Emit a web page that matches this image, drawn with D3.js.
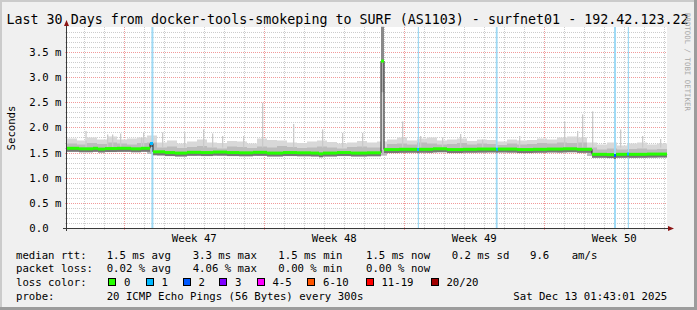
<!DOCTYPE html>
<html>
<head>
<meta charset="utf-8">
<script src="https://cdn.jsdelivr.net/npm/d3@7"></script>
<style>
body{margin:0;background:#f0f0f0}
svg{display:block;font-family:"DejaVu Sans Mono",monospace}
</style>
</head>
<body>
<svg id="chart"></svg>
<script>
const W = 697, H = 310
const plot = {left: 67, right: 667, top: 27, bottom: 228}

const title = "Last 30 Days from docker-tools-smokeping to SURF (AS1103) - surfnet01 - 192.42.123.22"
const yTicks = [0, 0.5, 1.0, 1.5, 2.0, 2.5, 3.0, 3.5]
const weekLabels = ["Week 47", "Week 48", "Week 49", "Week 50"]

// smoke per 12h bucket (ms): bottom, dense band top, light band top
const smokeLo = [1.52,1.52,1.51,1.52,1.52,1.51,1.52,1.52,1.47,
  1.44,1.45,1.43,1.44,1.45,1.44,1.43,1.44,1.45,1.44,1.43,1.44,1.45,1.44,1.43,1.44,1.45,1.44,1.43,1.44,1.45,1.44,1.44,
  1.51,1.50,1.51,1.52,1.50,1.51,1.50,1.52,1.51,1.50,1.51,1.52,1.50,1.51,1.50,1.51,1.52,1.50,1.51,1.50,
  1.43,1.41,1.40,1.41,1.40,1.41,1.40,1.41]
const smokeMid = [1.68,1.66,1.69,1.67,1.70,1.68,1.66,1.69,1.70,
  1.60,1.62,1.59,1.61,1.63,1.60,1.58,1.62,1.61,1.59,1.62,1.60,1.63,1.61,1.59,1.60,1.62,1.60,1.58,1.61,1.62,1.60,1.60,
  1.67,1.68,1.66,1.70,1.68,1.66,1.67,1.69,1.66,1.68,1.67,1.65,1.68,1.66,1.67,1.69,1.68,1.70,1.69,1.70,
  1.60,1.56,1.58,1.56,1.57,1.58,1.56,1.57]
const smokeHi = [1.78,1.74,1.80,1.76,1.82,1.76,1.78,1.80,1.84,
  1.70,1.74,1.68,1.72,1.76,1.70,1.69,1.73,1.72,1.68,1.78,1.75,1.74,1.70,1.69,1.72,1.74,1.71,1.68,1.70,1.73,1.70,1.72,
  1.76,1.80,1.74,1.78,1.80,1.74,1.76,1.78,1.73,1.76,1.75,1.72,1.76,1.74,1.75,1.78,1.76,1.80,1.82,1.80,
  1.70,1.66,1.70,1.64,1.68,1.70,1.66,1.68]

// single outlier pings: [day, ms]
const spikes = [[0.92,1.93],[2.0,1.86],[2.25,1.86],[2.65,1.88],[3.7,1.80],[3.8,1.90],[4.75,1.90],[5.85,1.90],
  [6.8,1.96],[7.25,1.88],[7.75,1.83],[8.8,1.83],[9.75,2.49],[11.3,2.07],[12.75,1.96],[13.75,1.89],[14.75,1.89],
  [16.75,2.12],[17.65,1.83],[18.75,1.80],[19.65,1.87],[20.75,1.76],[22.6,1.83],[24.85,2.12],[25.5,1.93],
  [25.75,2.26],[26.25,2.32],[27.65,1.96],[28.75,1.83],[29.65,1.77]]

// the one slow period: [start day, end day]
const burst = [15.7, 15.85]

// median rtt steps: [day, ms, loss class]
const median = [[0,1.585,0],[0.6,1.575,0],[1.3,1.585,0],[1.55,1.57,0],[1.9,1.58,0],[2.5,1.585,0],[3.2,1.575,0],
  [3.7,1.585,0],[4.15,1.68,1],[4.3,1.515,0],[4.9,1.50,0],[5.4,1.49,0],[6.0,1.505,0],[6.7,1.50,0],[7.3,1.51,0],
  [8.0,1.50,0],[8.6,1.495,0],[9.3,1.505,0],[10.0,1.49,0],[10.8,1.50,0],[11.5,1.495,0],[12.2,1.49,0],[12.6,1.475,0],
  [12.8,1.49,0],[13.5,1.50,0],[14.2,1.49,0],[15.0,1.495,0],[15.7,3.32,0],[15.85,1.56,0],[16.6,1.565,0],
  [17.5,1.56,1],[17.6,1.565,0],[18.3,1.575,0],[19.0,1.56,0],[19.8,1.565,0],[20.5,1.57,0],[21.45,1.565,1],
  [21.55,1.57,0],[22.5,1.56,0],[23.3,1.565,0],[24.0,1.57,0],[24.8,1.575,0],[25.5,1.565,0],[26.25,1.465,0],
  [27.0,1.46,0],[27.35,1.44,2],[27.45,1.465,0],[28.0,1.47,1],[28.1,1.465,0],[29.0,1.47,0],[30,1.465,0]]

// packet loss periods: [day, duration in days]
const lossBars = [[4.22,0.1],[17.54,0.06],[21.44,0.09],[27.35,0.1],[28.04,0.06]]

const lossLegend = [["0","#26ff00"],["1","#00b8ff"],["2","#0059ff"],["3","#7e00ff"],
  ["4-5","#ff00ff"],["6-10","#ff5500"],["11-19","#ff0000"],["20/20","#a10000"]]
const rttStats = ["1.5 ms avg","3.3 ms max","1.5 ms min","1.5 ms now","0.2 ms sd","9.6","am/s"]
const lossStats = ["0.02 % avg","4.06 % max","0.00 % min","0.00 % now"]
const probeText = "20 ICMP Echo Pings (56 Bytes) every 300s"
const stamp = "Sat Dec 13 01:43:01 2025"

const start = Date.UTC(2025, 10, 13, 3, 15)
const end = start + 30 * 864e5
const at = d => new Date(start + d * 864e5)

const x = d3.scaleUtc().domain([start, end]).range([plot.left, plot.right])
const y = d3.scaleLinear().domain([0, 4]).range([plot.bottom, plot.bottom - 4 * 50.286])
const crisp = v => Math.round(v) + 0.5

const svg = d3.select("#chart").attr("width", W).attr("height", H)

svg.append("rect").attr("width", W).attr("height", H).attr("fill", "#f0f0f0")
svg.append("rect").attr("width", W).attr("height", 2).attr("fill", "#cbcbcb")
svg.append("rect").attr("width", 2).attr("height", H).attr("fill", "#cbcbcb")
svg.append("rect").attr("x", W - 3).attr("width", 3).attr("height", H).attr("fill", "#9c9c9c")
svg.append("rect").attr("y", H - 3).attr("width", W).attr("height", 3).attr("fill", "#9c9c9c")

svg.append("rect")
    .attr("x", plot.left).attr("y", plot.top)
    .attr("width", plot.right - plot.left).attr("height", plot.bottom - plot.top + 1)
    .attr("fill", "#ffffff")

// grid
const grid = svg.append("g").attr("stroke-dasharray", "1,1").attr("stroke-width", 1)
d3.range(1, 40).filter(i => i % 5 !== 0).forEach(i => {
    grid.append("line").attr("x1", plot.left - 2).attr("x2", plot.right)
        .attr("y1", crisp(y(i / 10))).attr("y2", crisp(y(i / 10)))
        .attr("stroke", "#cccccc")
})
d3.utcDay.range(at(0), at(30)).forEach(t => {
    grid.append("line").attr("x1", crisp(x(t))).attr("x2", crisp(x(t)))
        .attr("y1", plot.top).attr("y2", plot.bottom + 2)
        .attr("stroke", "#cccccc")
})
yTicks.slice(1).forEach(v => {
    grid.append("line").attr("x1", plot.left - 2).attr("x2", plot.right)
        .attr("y1", crisp(y(v))).attr("y2", crisp(y(v)))
        .attr("stroke", "#f19a9a")
})
const weeks = d3.utcSunday.range(at(0), at(30))
weeks.forEach(t => {
    grid.append("line").attr("x1", crisp(x(t))).attr("x2", crisp(x(t)))
        .attr("y1", plot.top).attr("y2", plot.bottom + 3)
        .attr("stroke", "#f19a9a")
})

const g = svg.append("g")

// smoke
const buckets = d3.range(61).map(i => ({
    d: i * 0.5,
    lo: smokeLo[Math.min(i, 59)],
    mid: smokeMid[Math.min(i, 59)],
    hi: smokeHi[Math.min(i, 59)]
}))
g.append("path").datum(buckets)
    .attr("fill", "#d8d8d8")
    .attr("d", d3.area().curve(d3.curveStepAfter)
        .x(d => x(at(d.d))).y0(d => y(d.lo)).y1(d => y(d.hi)))
g.append("path").datum(buckets)
    .attr("fill", "#bcbcbc")
    .attr("d", d3.area().curve(d3.curveStepAfter)
        .x(d => x(at(d.d))).y0(d => y(d.lo)).y1(d => y(d.mid)))

g.selectAll(".spike").data(spikes).enter().append("rect")
    .attr("class", "spike")
    .attr("x", d => x(at(d[0])))
    .attr("width", 1.3)
    .attr("y", d => y(d[1]))
    .attr("height", d => y(1.6) - y(d[1]))
    .attr("fill", "#cacaca")

// slow period smoke
const bx0 = x(at(burst[0])), bw = x(at(burst[1])) - bx0
;[[1.55, 4, "#d6d6d6"], [2.7, 4, "#b0b0b0"], [3.3, 4, "#8a8a8a"]].forEach(b => {
    g.append("rect").attr("x", bx0).attr("width", bw)
        .attr("y", y(b[1])).attr("height", y(b[0]) - y(b[1]))
        .attr("fill", b[2])
})

// loss background
g.selectAll(".loss").data(lossBars).enter().append("rect")
    .attr("class", "loss")
    .attr("x", d => x(at(d[0])))
    .attr("width", d => x(at(d[0] + d[1])) - x(at(d[0])))
    .attr("y", plot.top).attr("height", plot.bottom - plot.top)
    .attr("fill", "#9fdaf5")

// median
const medianPts = median.map((d, i) => ({
    x0: x(at(d[0])),
    x1: i < median.length - 1 ? x(at(median[i + 1][0])) : x(at(30)),
    y: y(d[1]),
    loss: d[2]
}))
const ml = svg.append("g")
ml.selectAll(".under").data(medianPts.filter(d => d.y > y(2))).enter().append("line")
    .attr("x1", d => d.x0).attr("x2", d => d.x1)
    .attr("y1", d => d.y + 1.5).attr("y2", d => d.y + 1.5)
    .attr("stroke", "#777777").attr("stroke-width", 4)
ml.append("path").datum(median)
    .attr("fill", "none").attr("stroke", "#202020").attr("stroke-width", 1)
    .attr("d", d3.line().curve(d3.curveStepAfter).x(d => x(at(d[0]))).y(d => y(d[1])))
ml.selectAll(".med").data(medianPts).enter().append("line")
    .attr("x1", d => d.x0).attr("x2", d => d.x1)
    .attr("y1", d => d.y).attr("y2", d => d.y)
    .attr("stroke", d => lossLegend[d.loss][1]).attr("stroke-width", 3)

// axes
const ax = svg.append("g").attr("stroke", "#3a3a3a").attr("stroke-width", 1)
ax.append("line").attr("x1", plot.left - 0.5).attr("x2", plot.left - 0.5)
    .attr("y1", plot.bottom + 3).attr("y2", 24)
ax.append("line").attr("x1", plot.left - 4).attr("x2", plot.right + 2)
    .attr("y1", plot.bottom + 0.5).attr("y2", plot.bottom + 0.5)
svg.append("path").attr("fill", "#8b1414")
    .attr("d", `M${plot.left - 0.5},20 L${plot.left - 3},26 L${plot.left + 2},26 Z`)
svg.append("path").attr("fill", "#8b1414")
    .attr("d", `M${plot.right + 7},${plot.bottom + 0.5} L${plot.right + 1},${plot.bottom - 2} L${plot.right + 1},${plot.bottom + 3} Z`)

// y labels
svg.selectAll(".ylab").data(yTicks).enter().append("text")
    .attr("x", 29.3).attr("y", d => crisp(y(d)) + 3.5)
    .attr("font-size", 10.67)
    .text(d => d === 0 ? "0.0" : d3.format(".1f")(d) + " m")

svg.append("text")
    .attr("transform", "translate(15,128) rotate(-90)")
    .attr("text-anchor", "middle").attr("font-size", 10.67)
    .text("Seconds")

// week labels
svg.selectAll(".xlab").data(weeks).enter().append("text")
    .attr("x", d => x(new Date(+d + 3.5 * 864e5)))
    .attr("y", 242).attr("text-anchor", "middle").attr("font-size", 10.67)
    .text((d, i) => weekLabels[i])

svg.append("text").attr("x", 347.5).attr("y", 24)
    .attr("text-anchor", "middle").attr("font-size", 13.33)
    .text(title)

svg.append("text")
    .attr("transform", "translate(685,13) rotate(90)")
    .attr("font-size", 7.4).attr("fill", "#a8a8a8")
    .text("RRDTOOL / TOBI OETIKER")

// legend
const leg = svg.append("g").attr("font-size", 10.67).attr("xml:space", "preserve")
const rows = [258.5, 272.3, 286, 299.7]
leg.append("text").attr("x", 16).attr("y", rows[0]).text("median rtt:")
leg.append("text").attr("x", 16).attr("y", rows[1]).text("packet loss:")
leg.append("text").attr("x", 16).attr("y", rows[2]).text("loss color:")
leg.append("text").attr("x", 16).attr("y", rows[3]).text("probe:")

const statX = [106.7, 192.7, 278.3, 366, 451.7, 530, 571.7]
rttStats.forEach((s, i) => leg.append("text").attr("x", statX[i]).attr("y", rows[0]).text(s))
lossStats.forEach((s, i) => leg.append("text").attr("x", statX[i]).attr("y", rows[1]).text(s))

const swX = [108.3, 145.7, 182.7, 219.3, 256.7, 307.3, 365.7, 430.7]
lossLegend.forEach((d, i) => {
    leg.append("rect").attr("x", Math.round(swX[i]) + 0.5).attr("y", 278.5)
        .attr("width", 7).attr("height", 7)
        .attr("fill", d[1]).attr("stroke", "#000")
    leg.append("text").attr("x", swX[i] + 15.7).attr("y", rows[2]).text(d[0])
})
leg.append("text").attr("x", 106.7).attr("y", rows[3]).text(probeText)
leg.append("text").attr("x", 513.3).attr("y", rows[3]).text(stamp)
</script>
</body>
</html>
